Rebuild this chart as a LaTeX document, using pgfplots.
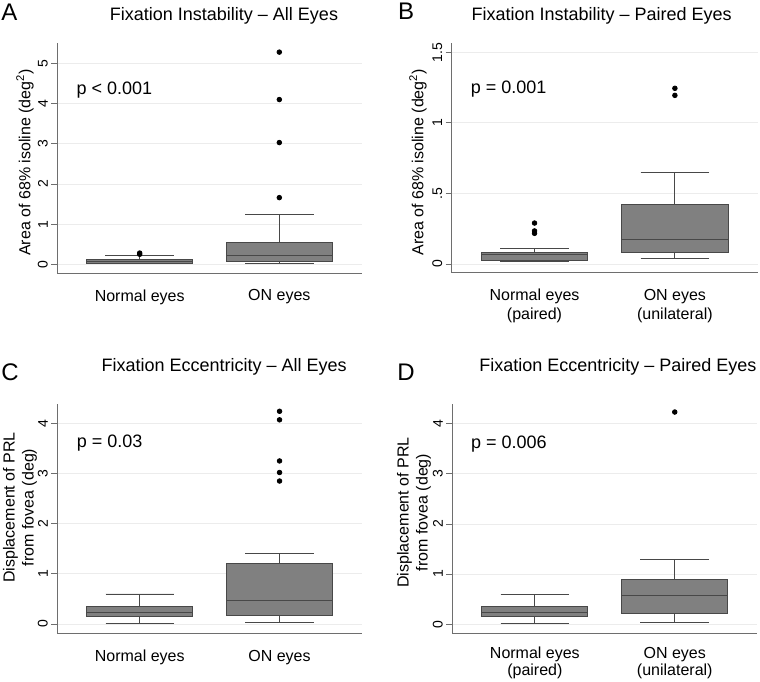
\documentclass[border=0pt]{standalone}
\usepackage{fontspec}
\setmainfont{Liberation Sans}
\usepackage{pgfplots}
\pgfplotsset{compat=1.18}
\usepgfplotslibrary{statistics}
\definecolor{boxfill}{RGB}{128,128,128}
\definecolor{boxedge}{RGB}{72,72,72}
\definecolor{axisgray}{RGB}{110,110,110}
\definecolor{gridgray}{RGB}{236,236,236}
\pgfplotsset{
  panel/.style={
    scale only axis,
    xmin=0.41, xmax=2.59,
    axis x line*=bottom, axis y line*=left,
    axis line style={-, draw=axisgray, line width=0.8pt},
    xtick={1,2},
    x tick style={draw=none},
    y tick style={draw=axisgray, line width=0.8pt},
    tick align=outside,
    major tick length=6pt,
    ymajorgrids,
    grid style={draw=gridgray, line width=0.8pt},
    xticklabel style={font=\fontsize{16}{19}\selectfont, align=center, yshift=-7pt},
    yticklabel style={font=\fontsize{14}{16}\selectfont, rotate=90, anchor=south, xshift=0pt},
    title style={font=\fontsize{18}{22}\selectfont, anchor=base},
    ylabel style={font=\fontsize{16}{19}\selectfont, anchor=center, align=center},
    boxplot/draw direction=y,
    clip=false,
  },
  bx/.style={boxplot prepared={#1, box extend=0.757, whisker extend=0.49},
     fill=boxfill, draw=boxedge, line width=0.8pt,
     mark=*, mark size=2.3pt, mark options={fill=black, draw=black}},
}
\begin{document}
\begin{tikzpicture}[x=1pt,y=1pt]
\path[use as bounding box] (0,0) rectangle (760,681);

% Panel A
\begin{axis}[panel, at={(57.3pt,408pt)}, anchor=south west, width=304.4pt, height=229.7pt,
  ymin=-0.216, ymax=5.5, ytick={0,1,2,3,4,5}, yticklabels={0,1,2,3,4,5},
  xticklabels={Normal eyes, ON eyes},
  title={Fixation Instability -- All Eyes}, title style={at={(axis description cs:0.5476,1.0723)}},
  ylabel={Area of 68\% isoline (deg\textsuperscript{2})}, ylabel style={at={(axis description cs:-0.106,0.481)}}]
\addplot[bx={draw position=1, lower whisker=0.02, lower quartile=0.03, median=0.07, upper quartile=0.12, upper whisker=0.21}]
  coordinates {(1,0.25) (1,0.28)};
\addplot[bx={draw position=2, lower whisker=0.03, lower quartile=0.08, median=0.21, upper quartile=0.55, upper whisker=1.24}]
  coordinates {(2,1.66) (2,3.03) (2,4.10) (2,5.28)};
\node[anchor=base west, font=\fontsize{18}{22}\selectfont] at (axis description cs:0.0516,0.778) {p < 0.001};
\end{axis}

% Panel B
\begin{axis}[panel, at={(451.7pt,408.3pt)}, anchor=south west, width=306pt, height=229.4pt,
  ymin=-0.062, ymax=1.564, ytick={0,0.5,1,1.5}, yticklabels={0,.5,1,1.5},
  xticklabels={{Normal eyes\\(paired)}, {ON eyes\\(unilateral)}},
  title={Fixation Instability -- Paired Eyes}, title style={at={(axis description cs:0.490,1.0723)}},
  ylabel={Area of 68\% isoline (deg\textsuperscript{2})}, ylabel style={at={(axis description cs:-0.110,0.481)}}]
\addplot[bx={draw position=1, lower whisker=0.016, lower quartile=0.028, median=0.071, upper quartile=0.085, upper whisker=0.108}]
  coordinates {(1,0.217) (1,0.234) (1,0.29)};
\addplot[bx={draw position=2, lower whisker=0.038, lower quartile=0.083, median=0.175, upper quartile=0.423, upper whisker=0.65}]
  coordinates {(2,1.195) (2,1.245)};
\node[anchor=base west, font=\fontsize{18}{22}\selectfont] at (axis description cs:0.051,0.779) {p = 0.001};
\end{axis}

% Panel C
\begin{axis}[panel, at={(57.3pt,47.7pt)}, anchor=south west, width=304.7pt, height=229.3pt,
  ymin=-0.185, ymax=4.385, ytick={0,1,2,3,4}, yticklabels={0,1,2,3,4},
  xticklabels={Normal eyes, ON eyes},
  title={Fixation Eccentricity -- All Eyes}, title style={at={(axis description cs:0.5476,1.1164)}},
  ylabel={Displacement of PRL\\from fovea (deg)}, ylabel style={at={(axis description cs:-0.1225,0.549)}}]
\addplot[bx={draw position=1, lower whisker=0.013, lower quartile=0.16, median=0.23, upper quartile=0.35, upper whisker=0.60}]
  coordinates {};
\addplot[bx={draw position=2, lower whisker=0.027, lower quartile=0.166, median=0.47, upper quartile=1.20, upper whisker=1.41}]
  coordinates {(2,2.85) (2,3.02) (2,3.25) (2,4.07) (2,4.24)};
\node[anchor=base west, font=\fontsize{18}{22}\selectfont] at (axis description cs:0.0525,0.809) {p = 0.03};
\end{axis}

% Panel D
\begin{axis}[panel, at={(452.3pt,47.7pt)}, anchor=south west, width=305pt, height=229.3pt,
  ymin=-0.18, ymax=4.39, ytick={0,1,2,3,4}, yticklabels={0,1,2,3,4},
  xticklabels={{Normal eyes\\(paired)}, {ON eyes\\(unilateral)}},
  xticklabel style={font=\fontsize{16}{17}\selectfont, yshift=3pt},
  title={Fixation Eccentricity -- Paired Eyes}, title style={at={(axis description cs:0.543,1.1164)}},
  ylabel={Displacement of PRL\\from fovea (deg)}, ylabel style={at={(axis description cs:-0.126,0.527)}}]
\addplot[bx={draw position=1, lower whisker=0.02, lower quartile=0.16, median=0.24, upper quartile=0.36, upper whisker=0.60}]
  coordinates {};
\addplot[bx={draw position=2, lower whisker=0.04, lower quartile=0.22, median=0.58, upper quartile=0.89, upper whisker=1.30}]
  coordinates {(2,4.23)};
\node[anchor=base west, font=\fontsize{18}{22}\selectfont] at (axis description cs:0.050,0.804) {p = 0.006};
\end{axis}

\node[font=\fontsize{24}{28}\selectfont] at (9.5,668.5) {A};
\node[font=\fontsize{24}{28}\selectfont] at (406,669.5) {B};
\node[font=\fontsize{24}{28}\selectfont] at (10,308.5) {C};
\node[font=\fontsize{24}{28}\selectfont] at (406,309) {D};
\end{tikzpicture}
\end{document}
